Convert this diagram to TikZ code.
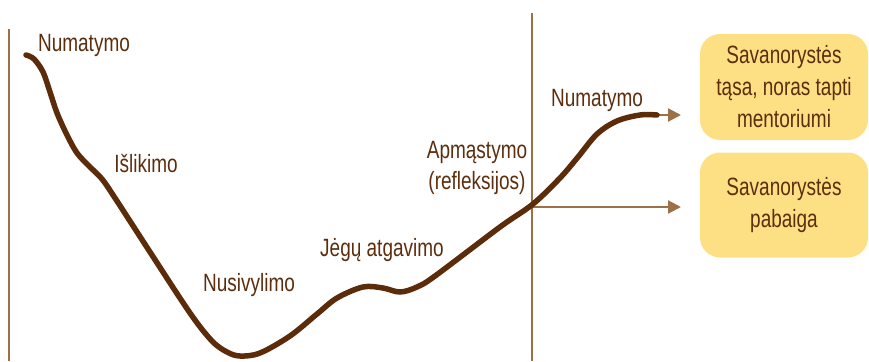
\documentclass[tikz,border=0pt]{standalone}
\usepackage{fontspec}
\setmainfont[FakeStretch=0.76]{Liberation Sans}
\usetikzlibrary{arrows.meta}
\definecolor{curvebrown}{RGB}{92,44,10}
\definecolor{textbrown}{RGB}{92,46,14}
\definecolor{linebrown}{RGB}{158,112,72}
\definecolor{boxyellow}{RGB}{254,224,132}
\tikzset{
  lbl/.style={text=textbrown, font=\fontsize{25}{31.5}\selectfont, align=center, inner sep=0pt},
  guide/.style={draw=linebrown, line width=2pt},
  outarrow/.style={draw=linebrown, line width=2.2pt, -{Triangle[length=13pt,width=13pt]}},
  curve/.style={draw=curvebrown, line width=5.5pt, line cap=round},
  box/.style={fill=boxyellow, rounded corners=20pt, minimum width=168pt, text=textbrown,
    font=\fontsize{25}{32}\selectfont, align=center, inner sep=0pt}
}
\begin{document}
\begin{tikzpicture}[x=1pt,y=-1pt]
\useasboundingbox (0,0) rectangle (869,361);
% guides
\coordinate (l1) at (9,29);
\coordinate (l2) at (9,361);
\coordinate (r1) at (532,13);
\coordinate (r2) at (532,361);
\draw[guide] (l1) -- (l2);
\draw[guide] (r1) -- (r2);
% boxes
\node[box, minimum height=106pt] (b1) at (784,87) {Savanorystės\\tąsa, noras tapti\\mentoriumi};
\node[box, minimum height=105pt] (b2) at (784,205) {Savanorystės\\pabaiga};
% arrows
\coordinate (cend) at (657,115);
\coordinate (a1) at (681,115);
\coordinate (cross) at (532,207);
\coordinate (a2) at (681,207);
\draw[outarrow] (cend) -- (a1);
\draw[outarrow] (cross) -- (a2);
% curve
\draw[curve] plot[smooth, tension=0.55] coordinates {
 (26,55) (34,59) (43,72) (50,92) (57,113) (67,135) (77,153) (89,166) (102,179) (115,198)
 (150,252) (190,313) (212,341) (227,352) (240,356) (260,353) (290,336) (317,314)
 (337,298) (363,287) (383,288) (400,292) (417,287) (435,276) (500,227) (533,204)
 (560,178) (578,157) (597,134) (617,121) (640,115) (657,115)};
% labels
\node[lbl] (n1) at (84,45) {Numatymo};
\node[lbl] (n2) at (146,164) {Išlikimo};
\node[lbl] (n3) at (249,285) {Nusivylimo};
\node[lbl] (n4) at (382,250) {Jėgų atgavimo};
\node[lbl] (n5) at (477,168) {Apmąstymo\\(refleksijos)};
\node[lbl] (n6) at (597,100) {Numatymo};
\end{tikzpicture}
\end{document}
